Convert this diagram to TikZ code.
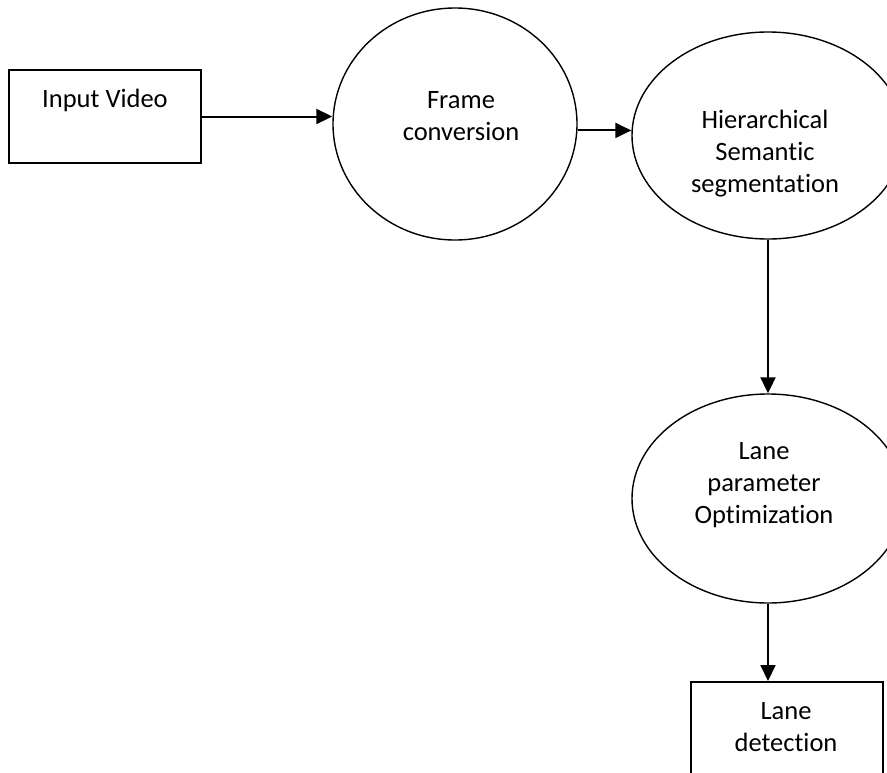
\documentclass[tikz,border=0pt]{standalone}
\usepackage{fontspec}
\setmainfont[Ligatures=NoCommon]{Carlito}
\usetikzlibrary{shapes.geometric,arrows.meta}
\begin{document}
\begin{tikzpicture}[x=1pt,y=-1pt,
  box/.style={draw,line width=2pt,rectangle,inner sep=0pt},
  oval/.style={draw,line width=1.4pt,ellipse,inner sep=0pt},
  txt/.style={anchor=base,inner sep=0pt,font=\fontsize{26.5}{32}\selectfont},
  flow/.style={line width=2pt,-{Triangle[length=16pt,width=15pt]}}]
  % page frame
  \fill[white] (0,0) rectangle (887,772);
  \useasboundingbox (0,0) rectangle (887,772);
  \clip (0,0) rectangle (887,772);

  % shapes
  \node[box,minimum width=192pt,minimum height=93pt] (in) at (105,116.5) {};
  \node[oval,minimum width=244pt,minimum height=232pt] (frame) at (455,124) {};
  \node[oval,minimum width=272pt,minimum height=207pt] (hier) at (768,135.5) {};
  \node[oval,minimum width=272pt,minimum height=209pt] (lane) at (768,498.5) {};
  \node[box,minimum width=192pt,minimum height=100pt] (det) at (787,732) {};

  % labels
  \node[txt] (tin) at (105,107) {Input Video};
  \node[txt] (tf1) at (461,108) {Frame};
  \node[txt] (tf2) at (461,140) {conversion};
  \node[txt] (th1) at (765,128) {Hierarchical};
  \node[txt] (th2) at (765,160) {Semantic};
  \node[txt] (th3) at (765,192) {segmentation};
  \node[txt] (tl1) at (764,459) {Lane};
  \node[txt] (tl2) at (764,491) {parameter};
  \node[txt] (tl3) at (764,523) {Optimization};
  \node[txt] (td1) at (786,719) {Lane};
  \node[txt] (td2) at (786,751) {detection};

  % connectors
  \draw[flow] (in.east) -- (in.east -| frame.west);
  \draw[flow] (frame.-3) -- (frame.-3 -| hier.west);
  \draw[flow] (hier.south) -- (lane.north);
  \draw[flow] (lane.south) -- (lane.south |- det.north);
\end{tikzpicture}
\end{document}
